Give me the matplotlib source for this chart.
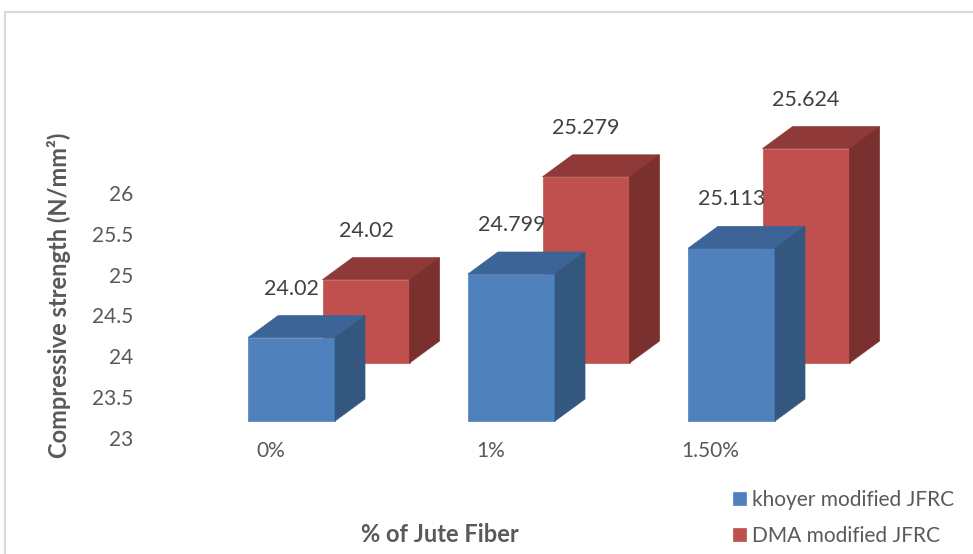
import matplotlib
matplotlib.use('Agg')
import matplotlib.pyplot as plt
from matplotlib.patches import Polygon, Rectangle

plt.rcParams['font.family'] = ['Lato', 'DejaVu Sans']

# data
categories = ['0%', '1%', '1.50%']
khoyer = [24.02, 24.799, 25.113]
dma = [24.02, 25.279, 25.624]
series_names = ['khoyer modified JFRC', 'DMA modified JFRC']
y_ticks = [23, 23.5, 24, 24.5, 25, 25.5, 26]
base = 23

W, H = 973, 554
fig = plt.figure(figsize=(W / 100, H / 100), dpi=100)
ax = fig.add_axes([140 / W, 0, 1 - 140 / W, 1])

# scale of the reference: 220 px per category, 81.7 px per N/mm2
px_x, px_y = 220.0, 81.7
x0 = 291.5   # pixel of first category centre
y23 = 438    # pixel (from top) of tick 23
ax.set_xlim((140 - x0) / px_x, (W - x0) / px_x)
ax.set_ylim(base - (H - y23) / px_y, base + y23 / px_y)

w = 87 / px_x
dx, dy = 30 / px_x, 22 / px_y

# (front, top, side) colours, plane shift
styles = [
    (('#4F81BD', '#3C6496', '#33577F'), (0.0, 17 / px_y)),
    (('#C0504D', '#8F3A38', '#7A302E'), (74.5 / px_x, 75 / px_y)),
]

def draw_series(vals, name, cols, shift):
    sx, sy = shift
    xs = [i + sx for i in range(len(vals))]
    ax.bar(xs, [v - base for v in vals], bottom=base + sy, width=w,
           color=cols[0], edgecolor=cols[0], lw=0.5, label=name, zorder=2)
    for x, v in zip(xs, vals):
        xl, xr = x - w / 2, x + w / 2
        t = v + sy
        b = base + sy
        ax.add_patch(Polygon([(xl, t), (xr, t), (xr + dx, t + dy), (xl + dx, t + dy)],
                             closed=True, fc=cols[1], ec=cols[1], lw=0.5, zorder=2))
        ax.add_patch(Polygon([(xr, b), (xr + dx, b + dy), (xr + dx, t + dy), (xr, t)],
                             closed=True, fc=cols[2], ec=cols[2], lw=0.5, zorder=2))
        ax.text(x, t + dy + 27 / px_y, f'{v:g}', ha='center', va='center',
                fontsize=15.5, color='#404040', zorder=3)

# back series first, then front series
draw_series(dma, series_names[1], *styles[1])
draw_series(khoyer, series_names[0], *styles[0])

for i, c in enumerate(categories):
    ax.text(i - 21 / px_x, base - 13 / px_y, c, ha='center', va='center',
            fontsize=15, color='#595959')

ax.set_yticks(y_ticks)
ax.set_yticklabels([f'{t:g}' for t in y_ticks])
ax.tick_params(axis='y', length=0, pad=5, labelsize=15, labelcolor='#595959')
ax.set_xticks([])
for s in ax.spines.values():
    s.set_visible(False)
ax.patch.set_visible(False)

fig.text(59 / W, 1 - 295 / H, 'Compressive strength (N/mm²)', rotation=90,
         ha='center', va='center', fontsize=17, fontweight='bold', color='#595959')
fig.text(440 / W, 1 - 535 / H, '% of Jute Fiber', ha='center', va='center',
         fontsize=17, fontweight='bold', color='#595959')

handles, labels = ax.get_legend_handles_labels()
leg = ax.legend(handles[::-1], labels[::-1], loc='upper left',
                bbox_to_anchor=(733 / W, 1 - 490 / H), bbox_transform=fig.transFigure,
                frameon=False, fontsize=15, handlelength=0.6, handleheight=0.6,
                handletextpad=0.3, labelspacing=0.75, borderpad=0, borderaxespad=0)
for t in leg.get_texts():
    t.set_color('#595959')

fig.add_artist(Rectangle((5 / W, -0.1), 1.0, (H - 12) / H + 0.1, transform=fig.transFigure,
                         fill=False, edgecolor='#D9D9D9', lw=1.5))

fig.savefig('out.png', dpi=100)
